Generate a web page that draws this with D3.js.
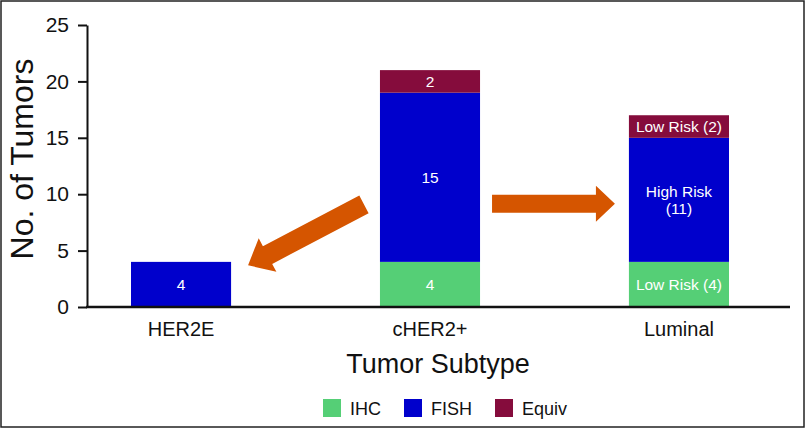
<!DOCTYPE html>
<html lang="en">
<head>
<meta charset="utf-8">
<title>Tumor Subtype</title>
<script src="https://cdn.jsdelivr.net/npm/d3@7"></script>
<style>
body { margin: 0; background: #fff; }
text { font-family: "Liberation Sans", Arial, Helvetica, sans-serif; }
</style>
</head>
<body>
<script>
// data
var categories = ["HER2E", "cHER2+", "Luminal"];
var seriesNames = ["IHC", "FISH", "Equiv"];
var ihc = [0, 4, 4];
var fish = [4, 15, 11];
var equiv = [0, 2, 2];
var ihcLabels = ["", "4", "Low Risk (4)"];
var fishLabels = ["4", "15", "High Risk|(11)"];
var equivLabels = ["", "2", "Low Risk (2)"];
var yTicks = [0, 5, 10, 15, 20, 25];

var colors = { IHC: "#55cf76", FISH: "#0000cc", Equiv: "#850c3c" };
var arrowColor = "#d55500";

var width = 806, height = 429;

var svg = d3.select("body").append("svg")
  .attr("width", width)
  .attr("height", height);

// outer frame
svg.append("rect")
  .attr("x", 1).attr("y", 1)
  .attr("width", 803).attr("height", 426)
  .attr("fill", "none")
  .attr("stroke", "#222")
  .attr("stroke-width", 1.5);

var x = d3.scaleBand()
  .domain(categories)
  .range([131, 729])
  .paddingInner(0.598)
  .paddingOuter(0);

var y = d3.scaleLinear()
  .domain([0, 25])
  .range([307, 25]);

// stack the series
var rows = categories.map(function(c, i) {
  return { cat: c, IHC: ihc[i], FISH: fish[i], Equiv: equiv[i],
    labels: { IHC: ihcLabels[i], FISH: fishLabels[i], Equiv: equivLabels[i] } };
});
var stacked = d3.stack().keys(seriesNames)(rows);

var layers = svg.selectAll("g.layer")
  .data(stacked)
  .enter().append("g")
  .attr("class", "layer")
  .attr("fill", function(d) { return colors[d.key]; });

layers.selectAll("rect")
  .data(function(d) { return d; })
  .enter().append("rect")
  .attr("x", function(d) { return x(d.data.cat); })
  .attr("width", x.bandwidth())
  .attr("y", function(d) { return y(d[1]); })
  .attr("height", function(d) { return y(d[0]) - y(d[1]); });

// labels inside segments
stacked.forEach(function(layer) {
  layer.forEach(function(d) {
    var txt = d.data.labels[layer.key];
    if (!txt) return;
    var lines = txt.split("|");
    var cx = x(d.data.cat) + x.bandwidth() / 2;
    var cy = y((d[0] + d[1]) / 2);
    var t = svg.append("text")
      .attr("text-anchor", "middle")
      .attr("fill", "#fff")
      .attr("font-size", "15.5px");
    lines.forEach(function(line, k) {
      t.append("tspan")
        .attr("x", cx)
        .attr("y", cy + 5.5 + (k - (lines.length - 1) / 2) * 17)
        .text(line);
    });
  });
});

// arrows
function arrowPath(x1, y1, x2, y2, shaft, headW, headL) {
  var dx = x2 - x1, dy = y2 - y1;
  var len = Math.sqrt(dx * dx + dy * dy);
  var ux = dx / len, uy = dy / len;
  var px = -uy, py = ux;
  var bx = x2 - ux * headL, by = y2 - uy * headL;
  var pts = [
    [x1 + px * shaft / 2, y1 + py * shaft / 2],
    [bx + px * shaft / 2, by + py * shaft / 2],
    [bx + px * headW / 2, by + py * headW / 2],
    [x2, y2],
    [bx - px * headW / 2, by - py * headW / 2],
    [bx - px * shaft / 2, by - py * shaft / 2],
    [x1 - px * shaft / 2, y1 - py * shaft / 2]
  ];
  return "M" + pts.map(function(p) { return p[0] + "," + p[1]; }).join("L") + "Z";
}

// left arrow: from cHER2+ toward HER2E
svg.append("path")
  .attr("d", arrowPath(x("cHER2+") - 16, y(9.1), x("HER2E") + x.bandwidth() + 17, y(3.7), 20, 38, 22))
  .attr("fill", arrowColor);

// right arrow: from cHER2+ toward Luminal
svg.append("path")
  .attr("d", arrowPath(x("cHER2+") + x.bandwidth() + 12, y(9.15), x("Luminal") - 14, y(9.15), 18, 36, 19))
  .attr("fill", arrowColor);

// y axis
var yAxis = svg.append("g")
  .attr("transform", "translate(87,0)")
  .call(d3.axisLeft(y).tickValues(yTicks).tickSize(9).tickPadding(9).tickSizeOuter(0));
yAxis.select(".domain").attr("stroke", "#111").attr("stroke-width", 2);
yAxis.selectAll(".tick line").attr("stroke", "#111").attr("stroke-width", 2);
yAxis.selectAll(".tick text")
  .attr("font-family", "'Liberation Sans', Arial, sans-serif")
  .attr("font-size", "21px")
  .attr("fill", "#111");

// x axis
var xAxis = svg.append("g")
  .attr("transform", "translate(0,307)")
  .call(d3.axisBottom(x).tickSize(0).tickPadding(10));
xAxis.select(".domain").remove();
xAxis.append("line")
  .attr("x1", 86).attr("x2", 790)
  .attr("y1", 0).attr("y2", 0)
  .attr("stroke", "#111")
  .attr("stroke-width", 2.5);
xAxis.selectAll(".tick text")
  .attr("font-family", "'Liberation Sans', Arial, sans-serif")
  .attr("font-size", "20px")
  .attr("dy", "0.95em")
  .attr("fill", "#111");

// axis titles
svg.append("text")
  .attr("transform", "translate(33,159) rotate(-90)")
  .attr("text-anchor", "middle")
  .attr("font-size", "32px")
  .attr("fill", "#111")
  .text("No. of Tumors");

svg.append("text")
  .attr("x", 438)
  .attr("y", 373)
  .attr("text-anchor", "middle")
  .attr("font-size", "27px")
  .attr("fill", "#111")
  .text("Tumor Subtype");

// legend
var legendX = [323, 404, 495];
var legend = svg.selectAll("g.legend")
  .data(seriesNames)
  .enter().append("g")
  .attr("class", "legend")
  .attr("transform", function(d, i) { return "translate(" + legendX[i] + ",399)"; });
legend.append("rect")
  .attr("width", 18).attr("height", 18)
  .attr("fill", function(d) { return colors[d]; });
legend.append("text")
  .attr("x", 27)
  .attr("y", 16)
  .attr("font-size", "18px")
  .attr("fill", "#111")
  .text(function(d) { return d; });
</script>
</body>
</html>
